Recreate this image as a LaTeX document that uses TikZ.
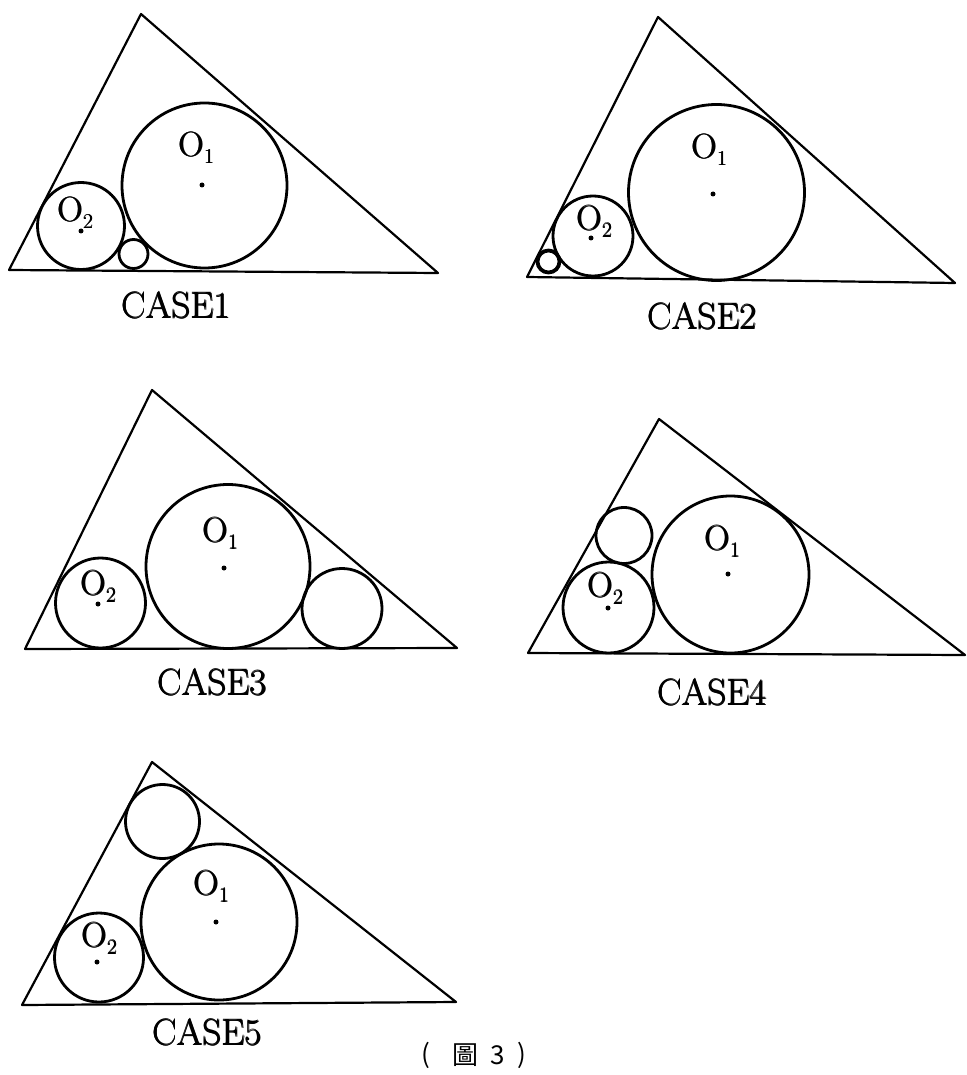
\documentclass[tikz,border=0pt]{standalone}
\usepackage{fontspec}
\newfontfamily\cjk{Noto Sans CJK TC}
\newcommand{\pbold}[1]{\leavevmode\rlap{#1}\kern0.8pt\rlap{#1}\kern-0.4pt\raisebox{0.5pt}{#1}}
\newcommand{\olabel}[1]{\pbold{O\kern0.5pt\raisebox{-7pt}{\fontsize{21}{24}\selectfont #1}}}
\begin{document}
\begin{tikzpicture}[x=1pt,y=-1pt,
  tri/.style={line width=2.2pt, line join=round},
  circ/.style={line width=2.8pt},
  ctr/.style={fill, circle, inner sep=0pt, minimum size=5pt},
  olab/.style={font=\fontsize{35}{40}\selectfont, inner sep=0pt, anchor=base west},
  clab/.style={font=\fontsize{37}{42}\selectfont, inner sep=0pt, anchor=base},
  cj/.style={font=\cjk\fontsize{26}{30}\selectfont, inner sep=0pt}]
\useasboundingbox (0,0) rectangle (966,1075);

% ---------------- CASE1
\draw[tri] (9,270) -- (141,14) -- (438,273) -- cycle;
\draw[circ] (204.5,185.5) circle (82.5);
\draw[circ] (81,226) circle (43.5);
\draw[circ] (133.5,254) circle (14.5);
\node[ctr] (c1o1) at (202,185) {};
\node[ctr] (c1o2) at (81,231) {};
\node[olab] (c1l1) at (178,157) {\olabel{1}};
\node[olab] (c1l2) at (57,222) {\olabel{2}};
\node[clab] (c1t) at (176,318) {\pbold{CASE1}};

% ---------------- CASE2
\draw[tri] (527,277) -- (658,17) -- (955,283) -- cycle;
\draw[circ] (716.5,192.5) circle (88);
\draw[circ] (593,236) circle (40);
\draw[line width=3.8pt] (548.5,261.5) circle (11);
\node[ctr] (c2o1) at (713,194) {};
\node[ctr] (c2o2) at (591,238) {};
\node[olab] (c2l1) at (691,159) {\olabel{1}};
\node[olab] (c2l2) at (576,230) {\olabel{2}};
\node[clab] (c2t) at (702,329) {\pbold{CASE2}};

% ---------------- CASE3
\draw[tri] (25,649) -- (152,390) -- (457,648) -- cycle;
\draw[circ] (228,566.5) circle (82);
\draw[circ] (100.5,603) circle (45);
\draw[circ] (342,608.5) circle (40);
\node[ctr] (c3o1) at (224,568) {};
\node[ctr] (c3o2) at (98,604) {};
\node[olab] (c3l1) at (202,542) {\olabel{1}};
\node[olab] (c3l2) at (80,595) {\olabel{2}};
\node[clab] (c3t) at (212,695) {\pbold{CASE3}};

% ---------------- CASE4
\draw[tri] (528,653) -- (659,419) -- (965,655) -- cycle;
\draw[circ] (730.5,574.5) circle (78.5);
\draw[circ] (608.5,607.5) circle (45.5);
\draw[circ] (624,535.5) circle (28);
\node[ctr] (c4o1) at (728,574) {};
\node[ctr] (c4o2) at (608,608) {};
\node[olab] (c4l1) at (704,550) {\olabel{1}};
\node[olab] (c4l2) at (587,597) {\olabel{2}};
\node[clab] (c4t) at (712,705) {\pbold{CASE4}};

% ---------------- CASE5
\draw[tri] (22,1005) -- (152,762) -- (456,1002) -- cycle;
\draw[circ] (219,922) circle (78);
\draw[circ] (99,957.5) circle (44.5);
\draw[circ] (162.5,821.5) circle (37);
\node[ctr] (c5o1) at (216,922) {};
\node[ctr] (c5o2) at (97,962) {};
\node[olab] (c5l1) at (193,895) {\olabel{1}};
\node[olab] (c5l2) at (81,947) {\olabel{2}};
\node[clab] (c5t) at (207,1045) {\pbold{CASE5}};

% ---------------- caption
\node[cj] (capL) at (426,1055) {(};
\node[cj] (capC) at (465,1055) {圖};
\node[cj] (capN) at (498,1055) {3};
\node[cj] (capR) at (522,1055) {)};
\end{tikzpicture}
\end{document}
